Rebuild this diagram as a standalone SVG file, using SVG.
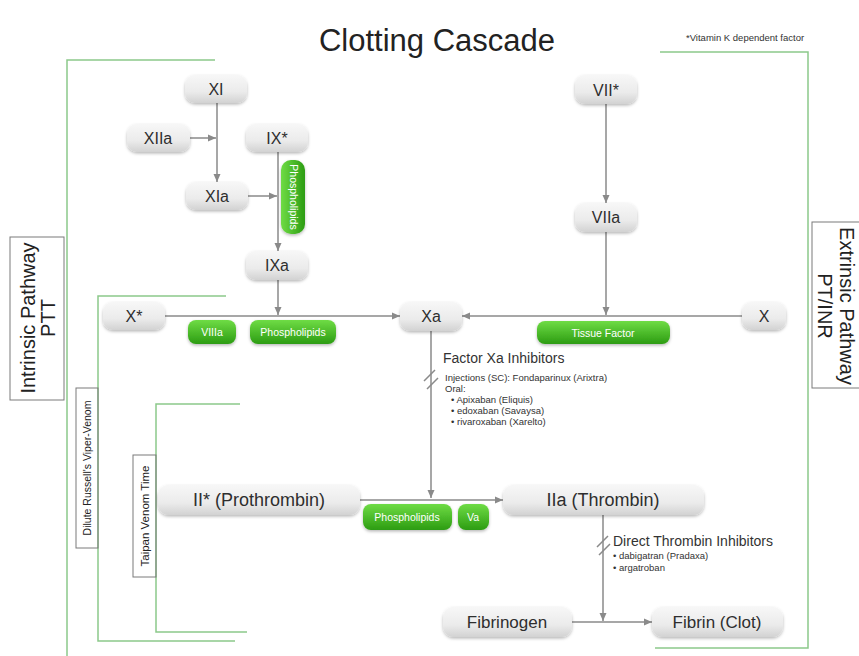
<svg xmlns="http://www.w3.org/2000/svg" width="859" height="656" viewBox="0 0 859 656">
  <defs>
    <linearGradient id="gNode" x1="0" y1="0" x2="0" y2="1">
      <stop offset="0" stop-color="#f7f7f7"/>
      <stop offset="0.6" stop-color="#ebebeb"/>
      <stop offset="1" stop-color="#d2d2d2"/>
    </linearGradient>
    <linearGradient id="gGreen" x1="0" y1="0" x2="0" y2="1">
      <stop offset="0" stop-color="#6fdc45"/>
      <stop offset="1" stop-color="#2c9c12"/>
    </linearGradient>
    <linearGradient id="gGreenV" x1="0" y1="0" x2="1" y2="0">
      <stop offset="0" stop-color="#6fdc45"/>
      <stop offset="1" stop-color="#2c9c12"/>
    </linearGradient>
    <filter id="shadow" x="-20%" y="-30%" width="140%" height="170%">
      <feDropShadow dx="0" dy="1.5" stdDeviation="1.4" flood-color="#000" flood-opacity="0.28"/>
    </filter>
    <marker id="arrow" markerUnits="userSpaceOnUse" markerWidth="9" markerHeight="8" refX="8" refY="4" orient="auto">
      <path d="M0,0.5 L8,4 L0,7.5 Z" fill="#8a8a8a"/>
    </marker>
    <style>
      text { font-family: "Liberation Sans", Arial, sans-serif; }
      .node rect { fill: url(#gNode); filter: url(#shadow); }
      .node text { fill: #2e2e2e; text-anchor: middle; }
      .pill rect { fill: url(#gGreen); filter: url(#shadow); }
      .pill text { fill: #ffffff; text-anchor: middle; font-size: 10.5px; }
      .edge { stroke: #8a8a8a; stroke-width: 1.5; fill: none; }
      .edge.arr { marker-end: url(#arrow); }
      .bracket { stroke: #8cc98a; stroke-width: 1.5; fill: none; }
      .labelbox { fill: none; stroke: #7a7a7a; stroke-width: 1; }
      .note { fill: #333; }
    </style>
  </defs>

  <rect width="859" height="656" fill="#ffffff"/>

  <!-- title and footnote -->
  <text x="437" y="51" font-size="31" fill="#222" text-anchor="middle">Clotting Cascade</text>
  <text x="686" y="41" font-size="9.5" fill="#333">*Vitamin K dependent factor</text>

  <!-- pathway brackets -->
  <g id="brackets">
    <path class="bracket" d="M215,60 H67 V656"/>
    <path class="bracket" d="M226,296 H98 V641 H235"/>
    <path class="bracket" d="M240,404 H156 V632 H247"/>
    <path class="bracket" d="M660,52 H808 V648 H655"/>
  </g>

  <!-- side labels -->
  <g id="label-intrinsic">
    <rect class="labelbox" x="10" y="237" width="54" height="163"/>
    <g transform="translate(37,318) rotate(-90)">
      <text x="0" y="-2" font-size="20" fill="#222" text-anchor="middle">Intrinsic Pathway</text>
      <text x="0" y="18" font-size="20" fill="#222" text-anchor="middle">PTT</text>
    </g>
  </g>
  <g id="label-extrinsic">
    <rect class="labelbox" x="812" y="222" width="60" height="166"/>
    <g transform="translate(836,306) rotate(90)">
      <text x="0" y="-4" font-size="20" fill="#222" text-anchor="middle">Extrinsic Pathway</text>
      <text x="0" y="18" font-size="20" fill="#222" text-anchor="middle">PT/INR</text>
    </g>
  </g>
  <g id="label-drvvt">
    <rect class="labelbox" x="76" y="388" width="22" height="160"/>
    <text transform="translate(91,468) rotate(-90)" x="0" y="0" font-size="10.5" fill="#222" text-anchor="middle">Dilute Russell's Viper-Venom</text>
  </g>
  <g id="label-taipan">
    <rect class="labelbox" x="133" y="455" width="23" height="122"/>
    <text transform="translate(149,516) rotate(-90)" x="0" y="0" font-size="11.5" fill="#222" text-anchor="middle">Taipan Venom Time</text>
  </g>

  <!-- connectors -->
  <g id="connectors">
    <path class="edge arr" d="M217,103 V182"/>
    <path class="edge arr" d="M190,138 H216"/>
    <path class="edge arr" d="M248,196 H277"/>
    <path class="edge arr" d="M278,152 V251"/>
    <path class="edge arr" d="M278,280 V315"/>
    <path class="edge arr" d="M165,316 H400"/>
    <path class="edge arr" d="M606,104 V203"/>
    <path class="edge arr" d="M606,232 V315"/>
    <path class="edge arr" d="M742,316 H462"/>
    <path class="edge arr" d="M431,331 V498"/>
    <path class="edge arr" d="M360,500 H503"/>
    <path class="edge arr" d="M603,515 V621"/>
    <path class="edge arr" d="M572,622 H652"/>
    <!-- inhibition hash marks -->
    <path class="edge" d="M424,381 L435,370 M427,389 L438,378"/>
    <path class="edge" d="M597,547 L608,536 M599,555 L610,544"/>
  </g>

  <!-- inhibitor notes -->
  <g id="xa-inhibitors" class="note">
    <text x="443" y="363" font-size="14">Factor Xa Inhibitors</text>
    <text x="445" y="381" font-size="9.5">Injections (SC): Fondaparinux (Arixtra)</text>
    <text x="445" y="392" font-size="9.5">Oral:</text>
    <text x="451" y="403" font-size="9.5">• Apixaban (Eliquis)</text>
    <text x="451" y="414" font-size="9.5">• edoxaban (Savaysa)</text>
    <text x="451" y="425" font-size="9.5">• rivaroxaban (Xarelto)</text>
  </g>
  <g id="thrombin-inhibitors" class="note">
    <text x="613" y="546" font-size="14">Direct Thrombin Inhibitors</text>
    <text x="613" y="559" font-size="9.5">• dabigatran (Pradaxa)</text>
    <text x="613" y="571" font-size="9.5">• argatroban</text>
  </g>

  <!-- factor nodes -->
  <g id="n-XI" class="node"><rect x="185" y="75" width="62" height="28" rx="10"/><text x="216" y="95" font-size="16">XI</text></g>
  <g id="n-XIIa" class="node"><rect x="127" y="124" width="63" height="28" rx="10"/><text x="158" y="144" font-size="16">XIIa</text></g>
  <g id="n-IX" class="node"><rect x="246" y="124" width="62" height="28" rx="10"/><text x="277" y="144" font-size="16">IX*</text></g>
  <g id="n-XIa" class="node"><rect x="186" y="182" width="62" height="28" rx="10"/><text x="217" y="202" font-size="16">XIa</text></g>
  <g id="n-IXa" class="node"><rect x="246" y="251" width="62" height="29" rx="10"/><text x="277" y="271" font-size="16">IXa</text></g>
  <g id="n-VII" class="node"><rect x="575" y="75" width="62" height="29" rx="10"/><text x="606" y="96" font-size="16">VII*</text></g>
  <g id="n-VIIa" class="node"><rect x="575" y="203" width="62" height="29" rx="10"/><text x="606" y="223" font-size="16">VIIa</text></g>
  <g id="n-Xstar" class="node"><rect x="103" y="302" width="62" height="28" rx="10"/><text x="134" y="322" font-size="16">X*</text></g>
  <g id="n-Xa" class="node"><rect x="400" y="302" width="62" height="29" rx="10"/><text x="431" y="322" font-size="16">Xa</text></g>
  <g id="n-X" class="node"><rect x="742" y="302" width="44" height="28" rx="10"/><text x="764" y="322" font-size="16">X</text></g>
  <g id="n-II" class="node"><rect x="158" y="485" width="202" height="30" rx="11"/><text x="259" y="506" font-size="18">II* (Prothrombin)</text></g>
  <g id="n-IIa" class="node"><rect x="503" y="485" width="201" height="30" rx="11"/><text x="603" y="506" font-size="18">IIa (Thrombin)</text></g>
  <g id="n-fibrinogen" class="node"><rect x="443" y="607" width="129" height="30" rx="11"/><text x="507" y="628" font-size="17">Fibrinogen</text></g>
  <g id="n-fibrin" class="node"><rect x="652" y="607" width="131" height="30" rx="11"/><text x="717" y="628" font-size="17">Fibrin (Clot)</text></g>

  <!-- cofactor pills -->
  <g id="c-phospholipids-ix" class="pill">
    <rect x="281" y="160" width="24" height="74" rx="10" style="fill:url(#gGreenV)"/>
    <text transform="translate(290,197) rotate(90)" x="0" y="0" font-size="8">Phospholipids</text>
  </g>
  <g id="c-VIIIa" class="pill"><rect x="188" y="320" width="48" height="24" rx="8"/><text x="212" y="336">VIIIa</text></g>
  <g id="c-phospholipids-x" class="pill"><rect x="250" y="320" width="86" height="24" rx="8"/><text x="293" y="336">Phospholipids</text></g>
  <g id="c-tissue-factor" class="pill"><rect x="537" y="321" width="133" height="23" rx="8"/><text x="603" y="337">Tissue Factor</text></g>
  <g id="c-phospholipids-ii" class="pill"><rect x="363" y="504" width="89" height="26" rx="8"/><text x="407" y="521">Phospholipids</text></g>
  <g id="c-Va" class="pill"><rect x="458" y="504" width="31" height="26" rx="8"/><text x="473" y="521">Va</text></g>
</svg>
